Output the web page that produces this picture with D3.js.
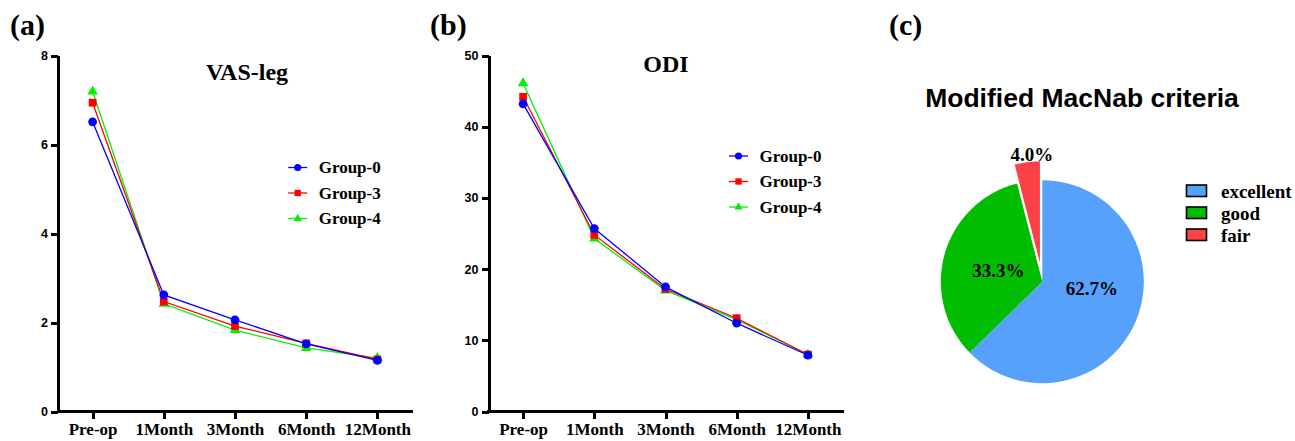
<!DOCTYPE html>
<html>
<head>
<meta charset="utf-8">
<script src="https://cdn.jsdelivr.net/npm/d3@7"></script>
<style>
  html, body { margin: 0; padding: 0; background: #fff; }
  svg { display: block; }
  .axis path, .axis line { stroke: #000; stroke-width: 3px; shape-rendering: crispEdges; }
  .axis text { fill: #000; }
</style>
</head>
<body>
<div id="chart"></div>
<script>
const timepoints = ["Pre-op", "1Month", "3Month", "6Month", "12Month"];
const groups = ["Group-0", "Group-3", "Group-4"];

const vasLeg = [
  [6.51, 2.62, 2.06, 1.52, 1.15],
  [6.94, 2.47, 1.92, 1.53, 1.17],
  [7.19, 2.42, 1.83, 1.43, 1.20],
];
const vasTicks = [0, 2, 4, 6, 8];

const odi = [
  [43.2, 25.7, 17.5, 12.4, 7.9],
  [44.2, 24.8, 17.2, 13.1, 8.0],
  [46.1, 24.3, 17.0, 12.9, 8.0],
];
const odiTicks = [0, 10, 20, 30, 40, 50];

const macnabLabels = ["excellent", "good", "fair"];
const macnabValues = [62.7, 33.3, 4.0];

const LINE_COLORS = ["#0000ff", "#ff0000", "#00f000"];
const LINE_SYMBOLS = [d3.symbolCircle, d3.symbolSquare, d3.symbolTriangle];
const PIE_COLORS = ["#55a1fb", "#00bd00", "#fb4347"];
const SERIF = "Liberation Serif";
const SANS = "Liberation Sans";

const svg = d3.select("#chart")
  .append("svg")
  .attr("width", 1295)
  .attr("height", 441);

const panelLabel = (x, text) => {
  svg.append("text")
    .attr("x", x)
    .attr("y", 35)
    .attr("font-family", SERIF)
    .attr("font-weight", "bold")
    .attr("font-size", 30)
    .text(text);
};

const drawLinePanel = ({ left, title, titleX, titleY, values, maxY, ticks, legendX, legendY }) => {
  const top = 55.5;
  const bottom = 411.5;
  const width = 355;
  const x = d3.scalePoint()
    .domain(timepoints)
    .range([left - 1, left + width])
    .padding(0.5);
  const y = d3.scaleLinear()
    .domain([0, maxY])
    .range([bottom, top]);

  const g = svg.append("g");

  const yAxis = g.append("g")
    .attr("class", "axis")
    .attr("transform", `translate(${left},0)`)
    .call(d3.axisLeft(y).tickValues(ticks).tickSize(7).tickSizeOuter(0).tickPadding(3));
  yAxis.selectAll("text")
    .attr("font-family", SANS)
    .attr("font-weight", "bold")
    .attr("font-size", 12.5);

  const xAxis = g.append("g")
    .attr("class", "axis")
    .attr("transform", `translate(0,${bottom})`)
    .call(d3.axisBottom(x).tickSize(7).tickSizeOuter(0).tickPadding(4));
  xAxis.selectAll("text")
    .attr("font-family", SERIF)
    .attr("font-weight", "bold")
    .attr("font-size", 17);

  xAxis.select(".domain").attr("d", `M${left - 1.5},0H${left + width}`);

  const line = d3.line()
    .x((d, i) => x(timepoints[i]))
    .y(d => y(d));

  // draw in reverse so blue sits on top
  d3.range(values.length).reverse().forEach(k => {
    g.append("path")
      .datum(values[k])
      .attr("fill", "none")
      .attr("stroke", LINE_COLORS[k])
      .attr("stroke-width", 1.3)
      .attr("d", line);
    g.append("g")
      .selectAll("path")
      .data(values[k])
      .join("path")
      .attr("transform", (d, i) => `translate(${x(timepoints[i])},${y(d)})`)
      .attr("d", d3.symbol().type(LINE_SYMBOLS[k]).size(k === 2 ? 48 : 60)())
      .attr("fill", LINE_COLORS[k]);
  });

  svg.append("text")
    .attr("x", titleX)
    .attr("y", titleY)
    .attr("text-anchor", "middle")
    .attr("font-family", SERIF)
    .attr("font-weight", "bold")
    .attr("font-size", 24)
    .text(title);

  const legend = svg.append("g")
    .attr("transform", `translate(${legendX},${legendY})`);
  const rows = legend.selectAll("g")
    .data(groups)
    .join("g")
    .attr("transform", (d, i) => `translate(0,${i * 25.5})`);
  rows.append("line")
    .attr("x1", -9.5)
    .attr("x2", 9.5)
    .attr("stroke", (d, i) => LINE_COLORS[i])
    .attr("stroke-width", 1.3);
  rows.append("path")
    .attr("d", (d, i) => d3.symbol().type(LINE_SYMBOLS[i]).size(i === 2 ? 30 : 40)())
    .attr("fill", (d, i) => LINE_COLORS[i]);
  rows.append("text")
    .attr("x", 21)
    .attr("y", 5.5)
    .attr("font-family", SERIF)
    .attr("font-weight", "bold")
    .attr("font-size", 17)
    .text(d => d);
};

const drawPiePanel = () => {
  const cx = 1042.3;
  const cy = 281.7;
  const radius = 101.5;
  const explode = 19;

  svg.append("text")
    .attr("x", 1082)
    .attr("y", 106.5)
    .attr("text-anchor", "middle")
    .attr("font-family", SANS)
    .attr("font-weight", "bold")
    .attr("font-size", 26.5)
    .text("Modified MacNab criteria");

  const pie = d3.pie().sort(null)(macnabValues);
  const arc = d3.arc().innerRadius(0).outerRadius(radius);
  const g = svg.append("g").attr("transform", `translate(${cx},${cy})`);

  const offset = (d, i) => {
    if (i !== 2) return [0, 0];
    const a = (d.startAngle + d.endAngle) / 2;
    return [Math.sin(a) * explode, -Math.cos(a) * explode];
  };

  g.selectAll("path")
    .data(pie)
    .join("path")
    .attr("transform", (d, i) => `translate(${offset(d, i)})`)
    .attr("d", arc)
    .attr("fill", (d, i) => PIE_COLORS[i]);

  const labelPos = [
    [49.5, 13.5],
    [-44, -5],
    [-10.5, -121],
  ];
  g.selectAll("text")
    .data(pie)
    .join("text")
    .attr("x", (d, i) => labelPos[i][0])
    .attr("y", (d, i) => labelPos[i][1])
    .attr("text-anchor", "middle")
    .attr("font-family", SERIF)
    .attr("font-weight", "bold")
    .attr("font-size", 19)
    .text(d => d.data.toFixed(1) + "%");

  const legend = svg.append("g").attr("transform", "translate(1186.5,185)");
  const rows = legend.selectAll("g")
    .data(macnabLabels)
    .join("g")
    .attr("transform", (d, i) => `translate(0,${i * 22})`);
  rows.append("rect")
    .attr("width", 20)
    .attr("height", 11.5)
    .attr("fill", (d, i) => PIE_COLORS[i])
    .attr("stroke", "#000")
    .attr("stroke-width", 1.6);
  rows.append("text")
    .attr("x", 34.5)
    .attr("y", 13)
    .attr("font-family", SERIF)
    .attr("font-weight", "bold")
    .attr("font-size", 19)
    .text(d => d);
};

panelLabel(10, "(a)");
panelLabel(430, "(b)");
panelLabel(889, "(c)");

drawLinePanel({
  left: 58,
  title: "VAS-leg",
  titleX: 247,
  titleY: 80,
  values: vasLeg,
  maxY: 8,
  ticks: vasTicks,
  legendX: 297.7,
  legendY: 167.5,
});

drawLinePanel({
  left: 488.5,
  title: "ODI",
  titleX: 666,
  titleY: 72,
  values: odi,
  maxY: 50,
  ticks: odiTicks,
  legendX: 738.5,
  legendY: 156,
});

drawPiePanel();
</script>
</body>
</html>
